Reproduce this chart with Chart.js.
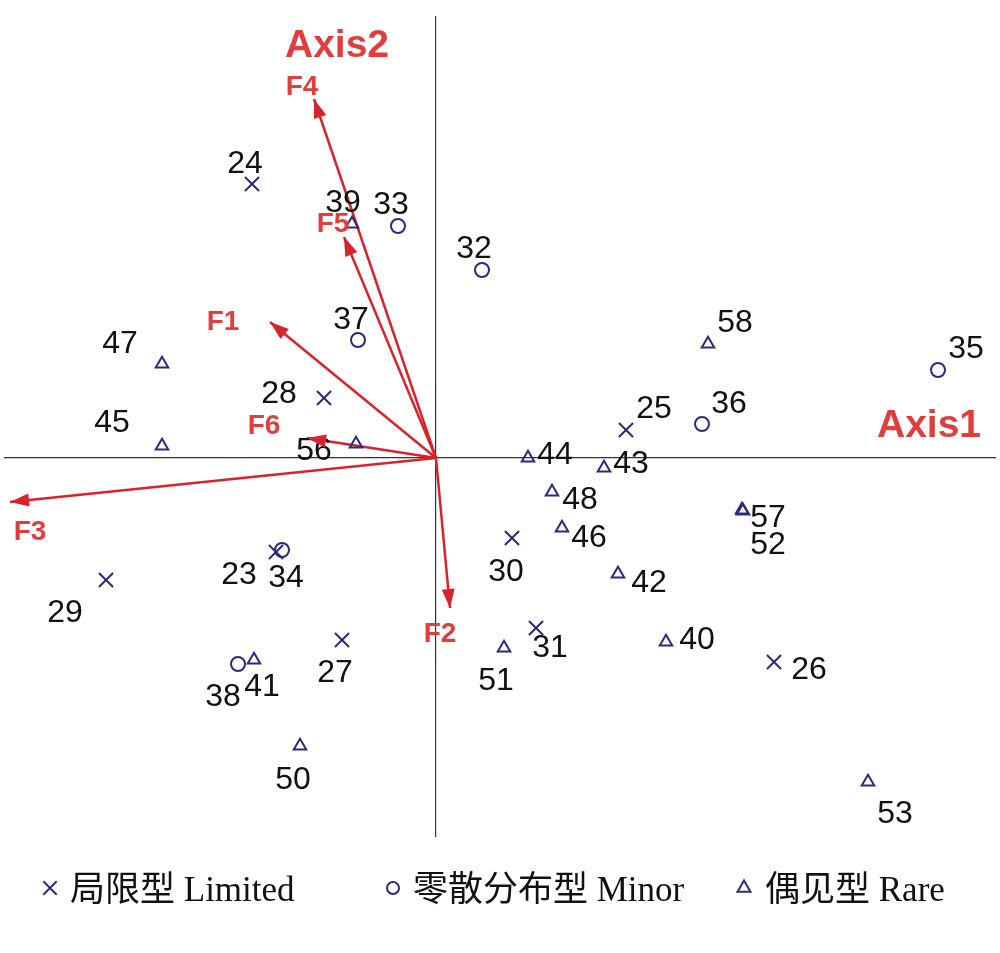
<!DOCTYPE html>
<html>
<head>
<meta charset="utf-8">
<title>CCA biplot</title>
<script src="https://cdn.jsdelivr.net/npm/chart.js@4.4.1/dist/chart.umd.min.js"></script>
<style>
  html, body { margin: 0; padding: 0; background: #fff; }
</style>
</head>
<body>
<canvas id="cca" width="1000" height="953"></canvas>
<script>
// sample scores on the first two axes
const limitedIds = ["24", "28", "25", "30", "23", "29", "27", "31", "26"];
const limitedX = [-0.92, -0.56, 0.95, 0.38, -0.80, -1.65, -0.47, 0.50, 1.69];
const limitedY = [1.37, 0.30, 0.14, -0.40, -0.47, -0.61, -0.91, -0.85, -1.02];

const minorIds = ["33", "32", "37", "35", "36", "34", "38"];
const minorX = [-0.19, 0.23, -0.39, 2.51, 1.33, -0.77, -0.99];
const minorY = [1.16, 0.94, 0.59, 0.44, 0.17, -0.46, -1.03];

const rareIds = ["39", "47", "58", "45", "56", "44", "43", "48", "57", "52", "46", "42", "40", "51", "41", "50", "53"];
const rareX = [-0.42, -1.37, 1.36, -1.37, -0.40, 0.46, 0.84, 0.58, 1.53, 1.535, 0.63, 0.91, 1.15, 0.34, -0.91, -0.68, 2.16];
const rareY = [1.17, 0.47, 0.57, 0.06, 0.07, 0.00, -0.05, -0.17, -0.26, -0.265, -0.35, -0.58, -0.92, -0.95, -1.01, -1.44, -1.62];

// environmental factor vectors
const factorNames = ["F1", "F2", "F3", "F4", "F5", "F6"];
const factorX = [-0.83, 0.07, -2.13, -0.61, -0.46, -0.645];
const factorY = [0.68, -0.75, -0.22, 1.795, 1.105, 0.10];

const seriesLabels = ["局限型 Limited", "零散分布型 Minor", "偶见型 Rare"];
const axisNames = ["Axis1", "Axis2"];

const xRange = [-2.155, 2.795];
const yRange = [-1.89, 2.205];

// ---- layout / style ----
const pointColor = "#2b2b7c";
const arrowColor = "#d8232b";
const redText = "#e13d3d";
const headLen = 19, headHalf = 6.5;

// label offsets in px from the marker (text centre)
const labelOffsets = {
  "24": [-7, -22], "28": [-45, -6], "25": [28, -23], "30": [-6, 32], "23": [-37, 21],
  "29": [-41, 31], "27": [-7, 31], "31": [14, 18], "26": [35, 6],
  "33": [-7, -23], "32": [-8, -23], "37": [-7, -22], "35": [28, -23], "36": [27, -22],
  "34": [4, 26], "38": [-15, 31],
  "39": [-9, -23], "47": [-42, -22], "58": [27, -23], "45": [-50, -25], "56": [-42, 5],
  "44": [27, -5], "43": [27, -6], "48": [28, 6], "57": [26, 6], "52": [25, 32],
  "46": [27, 8], "42": [31, 7], "40": [31, -4], "51": [-8, 31], "41": [8, 25],
  "50": [-7, 32], "53": [27, 30]
};
const factorOffsets = {
  "F1": [-47, -2], "F2": [-10, 24], "F3": [20, 28],
  "F4": [-12, -14], "F5": [-11, -15], "F6": [-43, -14]
};
const legendMarkerX = [50, 393, 744];
const legendMarkerR = [9.5, 6, 7.5];
const legendTextX = [70, 413, 765];
const legendY = 888;

function pts(xs, ys) {
  return xs.map((x, i) => ({ x: x, y: ys[i] }));
}

const pointSets = [
  { ids: limitedIds, data: pts(limitedX, limitedY), style: "crossRot", r: 10 },
  { ids: minorIds, data: pts(minorX, minorY), style: "circle", r: 7 },
  { ids: rareIds, data: pts(rareX, rareY), style: "triangle", r: 7.2 }
];

const datasets = [];
pointSets.forEach((s, i) => {
  datasets.push({
    label: seriesLabels[i],
    ids: s.ids,
    data: s.data,
    showLine: false,
    pointStyle: s.style,
    pointRadius: s.r,
    pointHoverRadius: s.r,
    pointBorderColor: pointColor,
    pointBackgroundColor: "rgba(0,0,0,0)",
    pointBorderWidth: 2,
    order: 0
  });
});
factorNames.forEach((f, i) => {
  datasets.push({
    label: f,
    factor: f,
    data: [{ x: 0, y: 0 }, { x: factorX[i], y: factorY[i] }],
    showLine: true,
    borderColor: arrowColor,
    borderWidth: 2.5,
    pointRadius: 0,
    pointHoverRadius: 0,
    order: 1
  });
});

function textAt(ctx, str, cx, cy, size) {
  // cy = visual centre of digits / capitals
  ctx.fillText(str, cx, cy + size * 0.358);
}

const annotate = {
  id: "annotate",
  afterDatasetsDraw(chart) {
    const ctx = chart.ctx;
    ctx.save();
    ctx.textAlign = "center";
    ctx.textBaseline = "alphabetic";

    chart.data.datasets.forEach((ds, i) => {
      const meta = chart.getDatasetMeta(i);
      if (ds.factor) {
        const a = meta.data[0], b = meta.data[1];
        const ang = Math.atan2(b.y - a.y, b.x - a.x);
        const c = Math.cos(ang), s = Math.sin(ang);
        ctx.fillStyle = arrowColor;
        ctx.beginPath();
        ctx.moveTo(b.x, b.y);
        ctx.lineTo(b.x - headLen * c + headHalf * s, b.y - headLen * s - headHalf * c);
        ctx.lineTo(b.x - headLen * c - headHalf * s, b.y - headLen * s + headHalf * c);
        ctx.closePath();
        ctx.fill();
        const off = factorOffsets[ds.factor];
        ctx.fillStyle = redText;
        ctx.font = "bold 28px 'Liberation Sans', Arial, sans-serif";
        textAt(ctx, ds.factor, b.x + off[0], b.y + off[1], 28);
      } else {
        ctx.fillStyle = "#111";
        ctx.font = "32px 'Liberation Sans', Arial, sans-serif";
        meta.data.forEach((pt, j) => {
          const id = ds.ids[j];
          const off = labelOffsets[id];
          textAt(ctx, id, pt.x + off[0], pt.y + off[1], 32);
        });
      }
    });

    // axis names
    const x0 = chart.scales.x.getPixelForValue(0);
    const y0 = chart.scales.y.getPixelForValue(0);
    const area = chart.chartArea;
    ctx.fillStyle = redText;
    ctx.font = "bold 39px 'Liberation Sans', Arial, sans-serif";
    textAt(ctx, axisNames[1], x0 - 99, area.top + 26, 39);
    textAt(ctx, axisNames[0], area.right - 66, y0 - 35, 39);
    ctx.restore();
  },
  afterDraw(chart) {
    const ctx = chart.ctx;
    ctx.save();
    ctx.font = "35px 'Liberation Serif', 'Times New Roman', 'Noto Sans CJK SC', serif";
    ctx.textAlign = "left";
    ctx.textBaseline = "alphabetic";
    pointSets.forEach((s, i) => {
      ctx.strokeStyle = pointColor;
      ctx.fillStyle = "rgba(0,0,0,0)";
      ctx.lineWidth = 2;
      Chart.helpers.drawPoint(ctx, { pointStyle: s.style, radius: legendMarkerR[i], borderWidth: 2, rotation: 0 },
        legendMarkerX[i], legendY);
      ctx.fillStyle = "#111";
      ctx.fillText(seriesLabels[i], legendTextX[i], legendY + 13);
    });
    ctx.restore();
  }
};

new Chart(document.getElementById("cca"), {
  type: "scatter",
  data: { datasets: datasets },
  options: {
    responsive: false,
    animation: false,
    devicePixelRatio: 1,
    layout: { autoPadding: false, padding: { left: 5, right: 5, top: 17, bottom: 117 } },
    plugins: {
      legend: { display: false },
      tooltip: { enabled: false }
    },
    scales: {
      x: {
        type: "linear",
        min: xRange[0], max: xRange[1],
        position: { y: 0 },
        grid: { display: false },
        ticks: { display: false },
        border: { display: true, color: "#333", width: 1.2 }
      },
      y: {
        type: "linear",
        min: yRange[0], max: yRange[1],
        position: { x: 0 },
        grid: { display: false },
        ticks: { display: false },
        border: { display: true, color: "#333", width: 1.2 }
      }
    }
  },
  plugins: [annotate]
});
</script>
</body>
</html>
